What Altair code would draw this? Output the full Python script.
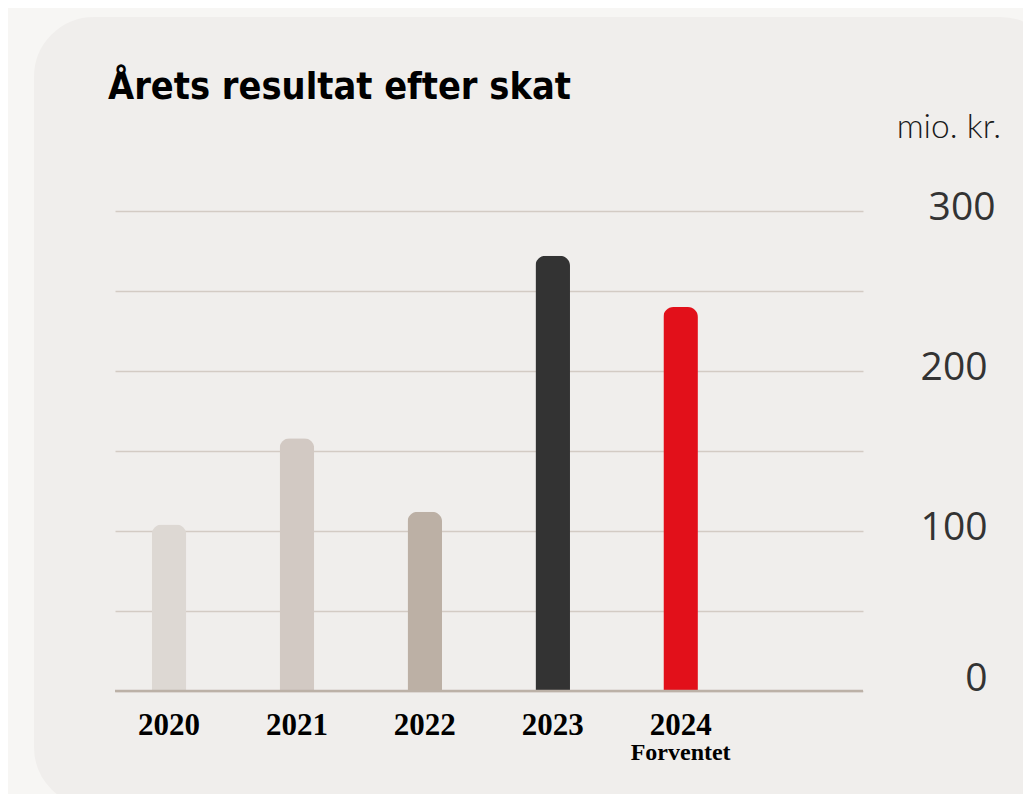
import altair as alt
import pandas as pd

# ---- data ----
years = ["2020", "2021", "2022", "2023", "2024"]
values = [104, 158, 112, 272, 240]
bar_colors = ["#ddd8d3", "#d2c9c3", "#bcb0a5", "#333333", "#e2101a"]
notes = ["", "", "", "", "Forventet"]
y_ticks = [0, 50, 100, 150, 200, 250, 300]
title_text = "Årets resultat efter skat"
unit_text = "mio. kr."

W, H = 748, 480

df = pd.DataFrame({"year": years, "value": values, "note": notes})

x_scale = alt.Scale(domain=years, paddingInner=0.73, paddingOuter=0.789, align=0.182)
y_scale = alt.Scale(domain=[0, 300], nice=False, zero=True)

x_axis = alt.Axis(
    title=None, domain=False, ticks=False, labelAngle=0,
    labelFont="Liberation Serif", labelFontWeight="bold", labelFontSize=31,
    labelColor="#000000", labelPadding=19,
)
y_axis = alt.Axis(
    orient="right", values=y_ticks, title=None, domain=False, ticks=False,
    grid=True, gridColor="#d3cbc4", gridWidth=1.3,
    labelExpr="datum.value % 100 == 0 ? datum.label : ''",
    labelFont="Open Sans", labelFontSize=39, labelColor="#333333",
    labelAlign="right", labelBaseline="middle", labelFlush=False,
    labelPadding=alt.condition("datum.value == 300", alt.value(132), alt.value(124)),
    labelOffset=alt.condition("datum.value == 0", alt.value(-13), alt.value(-4)),
)

# page-coloured frame around the rounded card (stroke only)
frame = alt.Chart(pd.DataFrame({"k": [0]})).mark_rect(
    fill="transparent", stroke="#f7f6f4", strokeWidth=200, cornerRadius=160
).encode(x=alt.value(-181), x2=alt.value(1045), y=alt.value(-294), y2=alt.value(696))

bars = alt.Chart(df).mark_bar(cornerRadiusTopLeft=10, cornerRadiusTopRight=10).encode(
    x=alt.X("year:N", scale=x_scale, axis=x_axis),
    y=alt.Y("value:Q", scale=y_scale, axis=y_axis),
    color=alt.Color("year:N", scale=alt.Scale(domain=years, range=bar_colors), legend=None),
)

baseline = alt.Chart(pd.DataFrame({"base": [0]})).mark_rule(
    color="#bcb1a7", strokeWidth=2.5
).encode(y=alt.Y("base:Q", scale=y_scale, axis=y_axis))

note_text = alt.Chart(df).transform_filter("datum.note != ''").mark_text(
    font="Liberation Serif", fontWeight="bold", fontSize=24, baseline="alphabetic",
    color="#000000",
).encode(
    x=alt.X("year:N", scale=x_scale, axis=x_axis),
    y=alt.value(H + 69),
    text="note:N",
)

title = alt.Chart(pd.DataFrame({"t": [title_text]})).mark_text(
    align="left", baseline="alphabetic", font="DejaVu Sans Condensed",
    fontWeight="bold", fontSize=37.6, color="#000000",
).encode(x=alt.value(-7), y=alt.value(-112), text="t:N")

unit = alt.Chart(pd.DataFrame({"u": [unit_text]})).mark_text(
    align="right", baseline="alphabetic", font="Lato", fontWeight=300,
    fontSize=33.5, color="#1a1a1a",
).encode(x=alt.value(886), y=alt.value(-73), text="u:N")

chart = alt.layer(frame, bars, baseline, note_text, title, unit).properties(
    width=W, height=H,
    padding={"left": 107, "top": 203, "right": 160, "bottom": 103},
    autosize=alt.AutoSizeParams(type="none"),
    background="#f0eeec",
).configure_view(strokeWidth=0)

chart.save("out.html", embed_options={"renderer": "svg", "actions": False})
